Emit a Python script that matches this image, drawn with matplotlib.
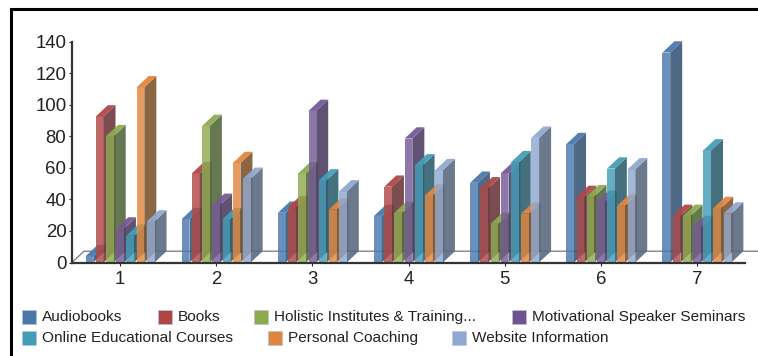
import matplotlib
matplotlib.use("Agg")
import matplotlib.pyplot as plt
from matplotlib.patches import Polygon, Rectangle
from matplotlib.lines import Line2D

plt.rcParams['font.family'] = ['Liberation Sans', 'DejaVu Sans']

groups = [1, 2, 3, 4, 5, 6, 7]
audiobooks = [4, 27.5, 31.5, 29.5, 50.5, 75, 133]
books = [92.5, 56.5, 35, 48, 47, 41.5, 29.5]
holistic = [80, 86.5, 56.5, 31.5, 24.5, 42, 29.5]
motivational = [21.5, 36.5, 96, 78.5, 56.5, 38.5, 22.5]
online = [17, 27.5, 52, 61.5, 63.5, 59.5, 71]
coaching = [111, 63, 33.5, 42.5, 31, 36, 34.5]
website = [26, 53, 45, 58.5, 79, 59, 31]

series = [audiobooks, books, holistic, motivational, online, coaching, website]
names = ["Audiobooks", "Books", "Holistic Institutes & Training...",
         "Motivational Speaker Seminars", "Online Educational Courses",
         "Personal Coaching", "Website Information"]
front_colors = ["#4A78AE", "#B04846", "#8DAB50", "#745A96", "#439EB7", "#E2873E", "#8FA9D0"]
side_colors = ["#3B5878", "#6E3A3D", "#55693F", "#4F3F63", "#2F626F", "#7F5530", "#5B6A80"]
swatch_colors = ["#4A76AB", "#AE4644", "#8CAA4E", "#6F5492", "#429DB6", "#E0853C", "#8FA8D2"]

W, H = 758, 356
fig = plt.figure(figsize=(W / 100, H / 100), dpi=100, facecolor="white")

# Plot area in pixel terms: y axis at x=72, zero line at y=262.5
ax = fig.add_axes([72 / W, (H - 262.5) / H, 673 / W, 221 / H])
ax.set_xlim(0.5, 7.5)
ax.set_ylim(0, 140)
ax.patch.set_visible(False)

px_x = 7.0 / 673      # data units per pixel, horizontal
px_y = 140.0 / 221    # data units per pixel, vertical
bar_w = 7.7 * px_x
step = 10.2 * px_x
depth_x = 12 * px_x
depth_y = 11.3 * px_y

# Floor outline behind the bars
ax.plot([0.5, 0.5 + depth_x, 7.63], [0, depth_y, depth_y], color="#777777", lw=0.9,
        clip_on=False, zorder=1, solid_joinstyle="miter")

z = 2
for g_idx, g in enumerate(groups):
    left0 = g - (7 * step + (bar_w - step)) / 2
    for s_idx, vals in enumerate(series):
        v = vals[g_idx]
        x0 = left0 + s_idx * step
        x1 = x0 + bar_w
        side = [(x1, 0), (x1 + depth_x, depth_y), (x1 + depth_x, v + depth_y), (x1, v)]
        top = [(x0, v), (x1, v), (x1 + depth_x, v + depth_y), (x0 + depth_x, v + depth_y)]
        ax.add_patch(Polygon(side, closed=True, fc=side_colors[s_idx], ec="none", alpha=0.9,
                             clip_on=False, zorder=z))
        ax.add_patch(Polygon(top, closed=True, fc=front_colors[s_idx], ec="none", alpha=0.95,
                             clip_on=False, zorder=z + 0.1))
        ax.add_patch(Rectangle((x0, 0), bar_w, v, fc=front_colors[s_idx], ec="none", alpha=0.82,
                               clip_on=False, zorder=z + 0.2))
        z += 1

for name in ("top", "right"):
    ax.spines[name].set_visible(False)
for name in ("left", "bottom"):
    ax.spines[name].set_color("#333333")
    ax.spines[name].set_linewidth(1.6)
    ax.spines[name].set_zorder(500)

ax.set_xticks(groups)
ax.set_xticklabels([str(g) for g in groups])
ax.set_yticks(range(0, 141, 20))
ax.tick_params(axis="both", labelsize=13.4, colors="#222222", length=2, width=0.8, pad=4)
ax.tick_params(axis="y", pad=2)

# Outer frame: top and left edges only
fig.add_artist(Line2D([11 / W, 11 / W, 1], [0, 1 - 8.5 / H, 1 - 8.5 / H],
                      color="black", lw=2.2, solid_joinstyle="miter"))

# Legend, two rows laid out by hand
legend_x = [22, 158, 254, 512, 22, 268, 452]
legend_y = [317, 317, 317, 317, 338, 338, 338]
for name, col, lx, ly in zip(names, swatch_colors, legend_x, legend_y):
    fig.add_artist(Rectangle((lx / W, 1 - (ly + 7) / H), 14 / W, 14 / H, fc=col, ec="#B8C4D6",
                             lw=0.5, transform=fig.transFigure))
    fig.text((lx + 20) / W, 1 - ly / H, name, fontsize=11.1, color="#222222",
             ha="left", va="center")

fig.savefig("out.png", dpi=100)
